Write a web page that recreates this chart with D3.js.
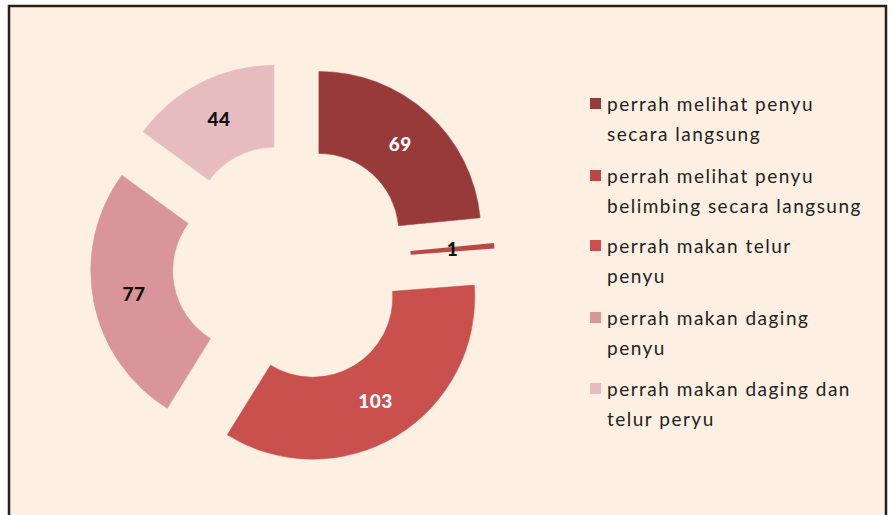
<!DOCTYPE html>
<html>
<head>
<meta charset="utf-8">
<script src="https://cdn.jsdelivr.net/npm/d3@7"></script>
<style>
  body { margin: 0; background: #fff; }
  svg { display: block; }
</style>
</head>
<body>
<svg id="chart" width="893" height="515"></svg>
<script>
// data
var categories = [
  ["perrah melihat penyu", "secara langsung"],
  ["perrah melihat penyu", "belimbing secara langsung"],
  ["perrah makan telur", "penyu"],
  ["perrah makan daging", "penyu"],
  ["perrah makan daging dan", "telur peryu"]
]
var values = [69, 1, 103, 77, 44]
var colors = ["#983a39", "#b94947", "#c9504d", "#d99599", "#e6bcbf"]
var labelColors = ["#fff", "#111", "#fff", "#111", "#111"]

var W = 893, H = 515
var cx = 292, cy = 263
var outerR = 162, innerR = 80, explode = 40

var svg = d3.select("#chart")

// panel background + frame
svg.append("rect")
  .attr("x", 9).attr("y", 6)
  .attr("width", 877).attr("height", H)
  .attr("fill", "#fdf0e2")
  .attr("stroke", "#2b1d17")
  .attr("stroke-width", 2.5)

var pie = d3.pie().sort(null).value(d => d)
var arcs = pie(values)
var arc = d3.arc().innerRadius(innerR).outerRadius(outerR)
var labelArc = d3.arc().innerRadius((innerR + outerR) / 2).outerRadius((innerR + outerR) / 2)

var g = svg.append("g").attr("transform", "translate(" + cx + "," + cy + ")")

var slice = g.selectAll("g.slice")
  .data(arcs)
  .enter()
  .append("g")
  .attr("class", "slice")
  .attr("transform", function(d) {
    var a = (d.startAngle + d.endAngle) / 2
    return "translate(" + (explode * Math.sin(a)) + "," + (-explode * Math.cos(a)) + ")"
  })

slice.append("path")
  .attr("d", arc)
  .attr("fill", (d, i) => colors[i])
  .attr("stroke", (d, i) => colors[i])
  .attr("stroke-width", (d, i) => i == 1 ? 2 : 0.5)

slice.append("text")
  .attr("transform", d => "translate(" + labelArc.centroid(d) + ")")
  .attr("text-anchor", "middle")
  .attr("dy", "0.36em")
  .attr("font-family", "Lato, 'Open Sans', sans-serif")
  .attr("font-weight", "900")
  .attr("font-size", 19)
  .attr("letter-spacing", 0.5)
  .attr("fill", (d, i) => labelColors[i])
  .text(d => d.data)

// legend
var legend = svg.append("g").attr("transform", "translate(590,0)")
var legendY = [104, 176, 246, 318, 389]
var item = legend.selectAll("g.item")
  .data(categories)
  .enter()
  .append("g")
  .attr("class", "item")
  .attr("transform", (d, i) => "translate(0," + legendY[i] + ")")

item.append("rect")
  .attr("x", 0).attr("y", -6)
  .attr("width", 11).attr("height", 11)
  .attr("fill", (d, i) => colors[i])

item.selectAll("text")
  .data(d => d)
  .enter()
  .append("text")
  .attr("x", 17)
  .attr("y", (d, j) => j * 30)
  .attr("dy", "0.35em")
  .attr("font-family", "Lato, 'Open Sans', sans-serif")
  .attr("font-size", 19)
  .attr("letter-spacing", 1.5)
  .attr("fill", "#222")
  .text(d => d)
</script>
</body>
</html>
